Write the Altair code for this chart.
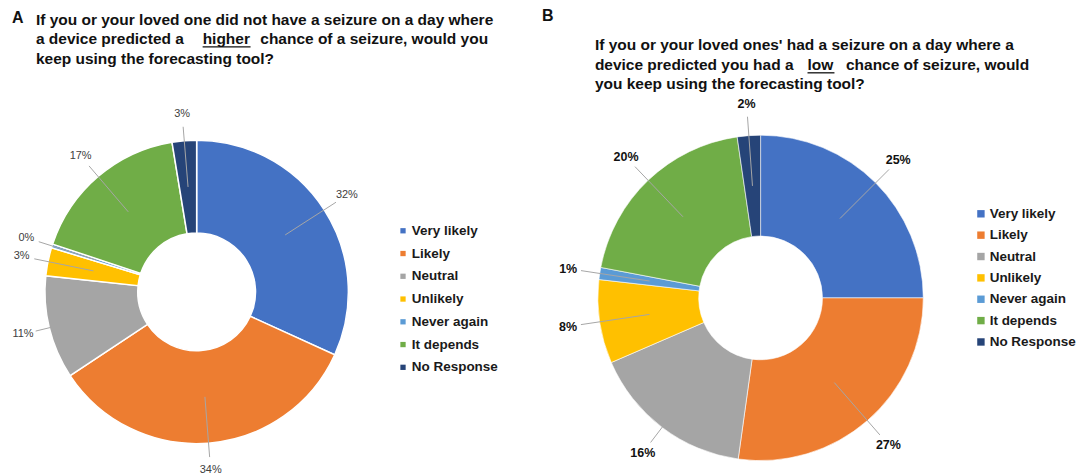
import altair as alt
import pandas as pd

categories = ["Very likely", "Likely", "Neutral", "Unlikely", "Never again", "It depends", "No Response"]
colors = ["#4472C4", "#ED7D31", "#A5A5A5", "#FFC000", "#5B9BD5", "#70AD47", "#264478"]

# percentages
values_a = [31.8, 33.9, 11.0, 3.0, 0.4, 17.3, 2.6]
values_b = [25.0, 27.2, 16.3, 8.3, 1.2, 19.7, 2.3]

title_a = [
    "If you or your loved one did not have a seizure on a day where",
    "a device predicted a",
    "higher",
    "chance of a seizure, would you",
    "keep using the forecasting tool?",
]
title_b = [
    "If you or your loved ones' had a seizure on a day where a",
    "device predicted you had a",
    "low",
    "chance of seizure, would",
    "you keep using the forecasting tool?",
]

FONT = "Liberation Sans"
PANEL_W = 534
PANEL_H = 458
TSIZE = 15.5


def donut(values, cx, cy, r_in, r_out, r_lab, stroke_w, lab_bold, lab_size, lab_color,
          leg_x, leg_y, sym_size, row_pad):
    df = pd.DataFrame({"category": categories, "value": values, "idx": list(range(len(categories)))})
    base = alt.Chart(df)

    arcs = base.mark_arc(innerRadius=r_in, outerRadius=r_out, stroke="white",
                         strokeWidth=stroke_w).encode(
        theta=alt.Theta("value:Q", stack=True),
        color=alt.Color("category:N",
                        scale=alt.Scale(domain=categories, range=colors),
                        legend=alt.Legend(title=None, orient="none", legendX=leg_x, legendY=leg_y,
                                          symbolType="square", symbolSize=sym_size,
                                          symbolStrokeWidth=0, labelFont=FONT,
                                          labelFontSize=13.5, labelFontWeight="bold",
                                          labelColor="#1a1a1a", rowPadding=row_pad,
                                          labelOffset=2)),
        order=alt.Order("idx:Q"),
        x=alt.value(cx),
        y=alt.value(cy),
    )

    geo = base.transform_window(
        cum="sum(value)", sort=[alt.SortField("idx")]
    ).transform_joinaggregate(
        total="sum(value)"
    ).transform_calculate(
        mid="2*PI*(datum.cum - datum.value/2)/datum.total"
    ).transform_calculate(
        lx=f"{cx} + {r_lab}*sin(datum.mid)",
        ly=f"{cy} - {r_lab}*cos(datum.mid)",
        x1=f"{cx} + {(r_in + r_out) / 2}*sin(datum.mid)",
        y1=f"{cy} - {(r_in + r_out) / 2}*cos(datum.mid)",
        x2=f"{cx} + {r_lab - 13}*sin(datum.mid)",
        y2=f"{cy} - {r_lab - 13}*cos(datum.mid)",
        lab="format(datum.value, '.0f') + '%'",
    )

    leaders = geo.mark_rule(color="#A6A6A6", strokeWidth=1).encode(
        x=alt.X("x1:Q", scale=None, axis=None),
        y=alt.Y("y1:Q", scale=None, axis=None),
        x2="x2:Q",
        y2="y2:Q",
    )
    labels = geo.mark_text(font=FONT, fontSize=lab_size,
                           fontWeight="bold" if lab_bold else "normal",
                           color=lab_color, align="center", baseline="middle").encode(
        x=alt.X("lx:Q", scale=None, axis=None),
        y=alt.Y("ly:Q", scale=None, axis=None),
        text="lab:N",
    )
    return arcs, leaders, labels


def tx(text, x, y, size=TSIZE, align="left", weight="bold"):
    return alt.Chart(pd.DataFrame({"t": [text]})).mark_text(
        font=FONT, fontSize=size, fontWeight=weight, color="#111111",
        align=align, baseline="alphabetic").encode(
        x=alt.value(x), y=alt.value(y), text="t:N")


def underline(x1, x2, y):
    return alt.Chart(pd.DataFrame({"t": [0]})).mark_rule(color="#111111", strokeWidth=1.3).encode(
        x=alt.value(x1), x2=alt.value(x2), y=alt.value(y))


# Panel A (origin at page 8,8)
a_arcs, a_lead, a_lab = donut(values_a, 189, 282, 59, 152, 179, 1.5, False, 11, "#404040",
                              389, 214, 28, 7.8)
a_title = [
    tx("A", 4, 13, size=16),
    tx(title_a[0], 28, 15),
    tx(title_a[1], 28, 34),
    tx(title_a[2], 195, 34),
    tx(title_a[3], 481, 34, align="right"),
    underline(195, 243, 36.5),
    tx(title_a[4], 28, 54),
]
panel_a = alt.layer(a_arcs, a_lead, a_lab, *a_title).properties(width=PANEL_W, height=PANEL_H)

# Panel B (origin at page 542,8)
b_arcs, b_lead, b_lab = donut(values_b, 220, 288, 62, 163, 195, 0.6, True, 12.5, "#111111",
                              434, 197, 55, 6.4)
b_title = [
    tx("B", 1, 11, size=16),
    tx(title_b[0], 54, 40),
    tx(title_b[1], 54, 60),
    tx(title_b[2], 267, 60),
    tx(title_b[3], 489, 60, align="right"),
    underline(267, 294, 62.5),
    tx(title_b[4], 54, 79),
]
panel_b = alt.layer(b_arcs, b_lead, b_lab, *b_title).properties(width=PANEL_W, height=PANEL_H)

chart = alt.hconcat(panel_a, panel_b, spacing=0).resolve_scale(
    color="independent", theta="independent"
).properties(padding=0).configure_view(stroke=None)

chart.save("out.html", embed_options={"renderer": "svg", "actions": False})
